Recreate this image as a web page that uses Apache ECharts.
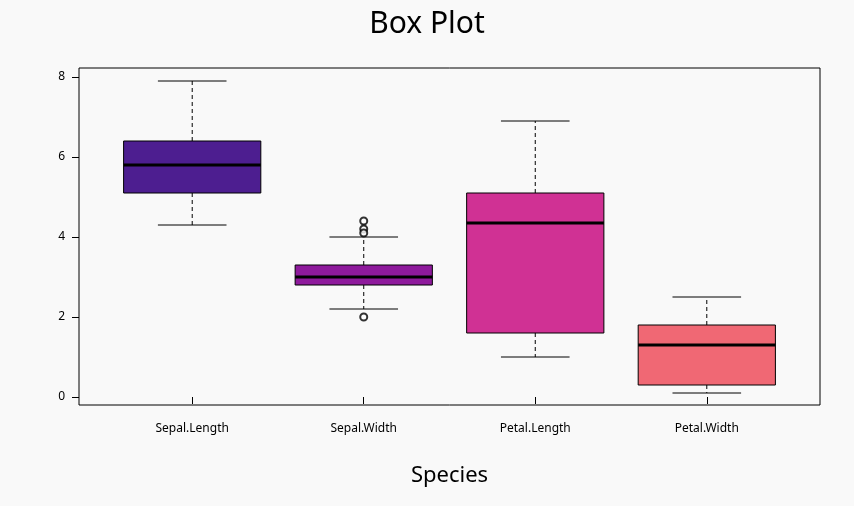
<!DOCTYPE html>
<html lang="en">
<head>
<meta charset="UTF-8">
<title>Box Plot</title>
<script src="https://cdn.jsdelivr.net/npm/echarts@6/dist/echarts.min.js"></script>
<style>body{margin:0;background:#f9f9f9}</style>
</head>
<body>
<div id="app" style="width:854px;height:506px"></div>
<script>
var categories = ["Sepal.Length", "Sepal.Width", "Petal.Length", "Petal.Width"];
// [min, Q1, median, Q3, max]
var boxStats = [
  [4.3, 5.1, 5.8, 6.4, 7.9],
  [2.2, 2.8, 3.0, 3.3, 4.0],
  [1.0, 1.6, 4.35, 5.1, 6.9],
  [0.1, 0.3, 1.3, 1.8, 2.5]
];
var outliers = [[2, 4.4], [2, 4.2], [2, 4.1], [2, 2.0]];
var boxColors = ["#4d1e90", "#8e1a9c", "#d03194", "#f06874"];
var yTicks = [0, 2, 4, 6, 8];

var myChart = echarts.init(document.getElementById('app'));
var font = "Noto Sans";
var option = {
  backgroundColor: "#f9f9f9",
  title: {
    text: "Box Plot", left: "center", top: 4,
    textStyle: {fontFamily: font, fontSize: 30, fontWeight: "normal", color: "#000"}
  },
  grid: {left: 79, right: 34, top: 68, bottom: 101, show: true, borderColor: "#000", borderWidth: 1, backgroundColor: "transparent"},
  xAxis: {
    type: "value", min: 0.34, max: 4.66,
    name: "Species", nameLocation: "middle", nameGap: 60,
    nameTextStyle: {fontFamily: font, fontSize: 22, color: "#000"},
    axisLine: {show: false}, splitLine: {show: false},
    axisTick: {show: true, length: 7, lineStyle: {color: "#000"}, customValues: [1, 2, 3, 4]},
    axisLabel: {
      customValues: [1, 2, 3, 4], margin: 18,
      fontFamily: font, fontSize: 12, color: "#000",
      formatter: function (v) { return categories[Math.round(v) - 1]; }
    }
  },
  yAxis: {
    type: "value", min: -0.2, max: 8.225,
    axisLine: {show: false}, splitLine: {show: false},
    axisTick: {show: true, length: 7, lineStyle: {color: "#000"}, customValues: yTicks},
    axisLabel: {customValues: yTicks, margin: 14, fontFamily: font, fontSize: 12, color: "#000"}
  },
  series: [
    {
      type: "custom",
      data: boxStats.map(function (s, i) { return [i + 1].concat(s); }),
      renderItem: function (params, api) {
        var x = api.value(0), half = 0.4, cap = 0.2;
        var c = function (xx, yy) { return api.coord([xx, yy]); };
        var mn = api.value(1), q1 = api.value(2), md = api.value(3), q3 = api.value(4), mx = api.value(5);
        var tl = c(x - half, q3), br = c(x + half, q1);
        var dash = {stroke: "#000", lineWidth: 1, lineDash: [4, 3]};
        var solid = {stroke: "#000", lineWidth: 1};
        function line(a, b, style) {
          return {type: "line", shape: {x1: a[0], y1: a[1], x2: b[0], y2: b[1]}, style: style};
        }
        return {
          type: "group",
          children: [
            line(c(x, q3), c(x, mx), dash),
            line(c(x, q1), c(x, mn), dash),
            line(c(x - cap, mx), c(x + cap, mx), solid),
            line(c(x - cap, mn), c(x + cap, mn), solid),
            {type: "rect", shape: {x: tl[0], y: tl[1], width: br[0] - tl[0], height: br[1] - tl[1]},
             style: {fill: boxColors[params.dataIndex], stroke: "#000", lineWidth: 1}},
            line(c(x - half, md), c(x + half, md), {stroke: "#000", lineWidth: 3})
          ]
        };
      }
    },
    {
      type: "scatter", data: outliers, symbol: "emptyCircle", symbolSize: 7,
      itemStyle: {color: "#000", borderColor: "#000", borderWidth: 1}
    }
  ]
};
myChart.setOption(option);
</script>
</body>
</html>
